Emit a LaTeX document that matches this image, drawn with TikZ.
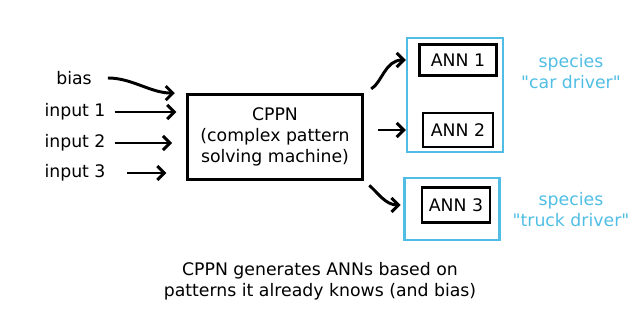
\documentclass[tikz,border=0pt]{standalone}
\usepackage{fontspec}
\setmainfont{DejaVu Sans}
\usetikzlibrary{arrows.meta}
\definecolor{speciesblue}{RGB}{80,190,228}
\begin{document}
\begin{tikzpicture}[x=0.025cm,y=-0.025cm,font=\fontsize{12.3}{15}\selectfont,
  box/.style={draw, line width=2.1pt, inner sep=0pt, align=center},
  group/.style={draw=speciesblue, line width=1.6pt, inner sep=0pt},
  arr/.style={-{Straight Barb[length=5pt,width=10pt]}, line width=2.1pt}]
\useasboundingbox (0,0) rectangle (640,320);
\node (bias) at (74,78) {bias};
\node (in1) at (75,112) {input 1};
\node (in2) at (75,143) {input 2};
\node (in3) at (75,173) {input 3};
\node[box, minimum width=4.37cm, minimum height=2.12cm] (cppn) at (275,137) {CPPN\\(complex pattern\\solving machine)};
\node[group, minimum width=2.4cm, minimum height=2.85cm] (grp1) at (455,95) {};
\node[group, minimum width=2.37cm, minimum height=1.55cm] (grp2) at (452,209) {};
\node[box, minimum width=1.92cm, minimum height=0.78cm] (ann1) at (458,60) {ANN 1};
\node[box, minimum width=1.75cm, minimum height=0.85cm] (ann2) at (458,130) {ANN 2};
\node[box, minimum width=1.7cm, minimum height=0.87cm] (ann3) at (456,205) {ANN 3};
\node[text=speciesblue, align=center] (sp1) at (571,72) {species\\\textquotedbl car driver\textquotedbl};
\node[text=speciesblue, align=center] (sp2) at (571,210) {species\\\textquotedbl truck driver\textquotedbl};
\node[align=center] (caption) at (320,281) {CPPN generates ANNs based on\\patterns it already knows (and bias)};
\draw[arr, shorten <=8pt, shorten >=8pt] (bias.east) to[out=0, in=180] (cppn.north west);
\draw[arr, shorten <=3pt, shorten >=7pt] (in1.east) -- (cppn.west |- in1.east);
\draw[arr, shorten <=3pt, shorten >=10pt] (in2.east) -- (cppn.west |- in2.east);
\draw[arr, shorten <=12pt, shorten >=14pt] (in3.east) -- (cppn.west |- in3.east);
\draw[arr, shorten <=6pt] (cppn.north east) to[out=30, in=180] (grp1.west |- ann1);
\draw[arr, shorten <=10pt] (cppn.east |- ann2) -- (grp1.west |- ann2);
\draw[arr, shorten <=5pt, shorten >=2pt] (cppn.south east) to[out=-40, in=180] (grp2.west |- ann3);
\end{tikzpicture}
\end{document}
